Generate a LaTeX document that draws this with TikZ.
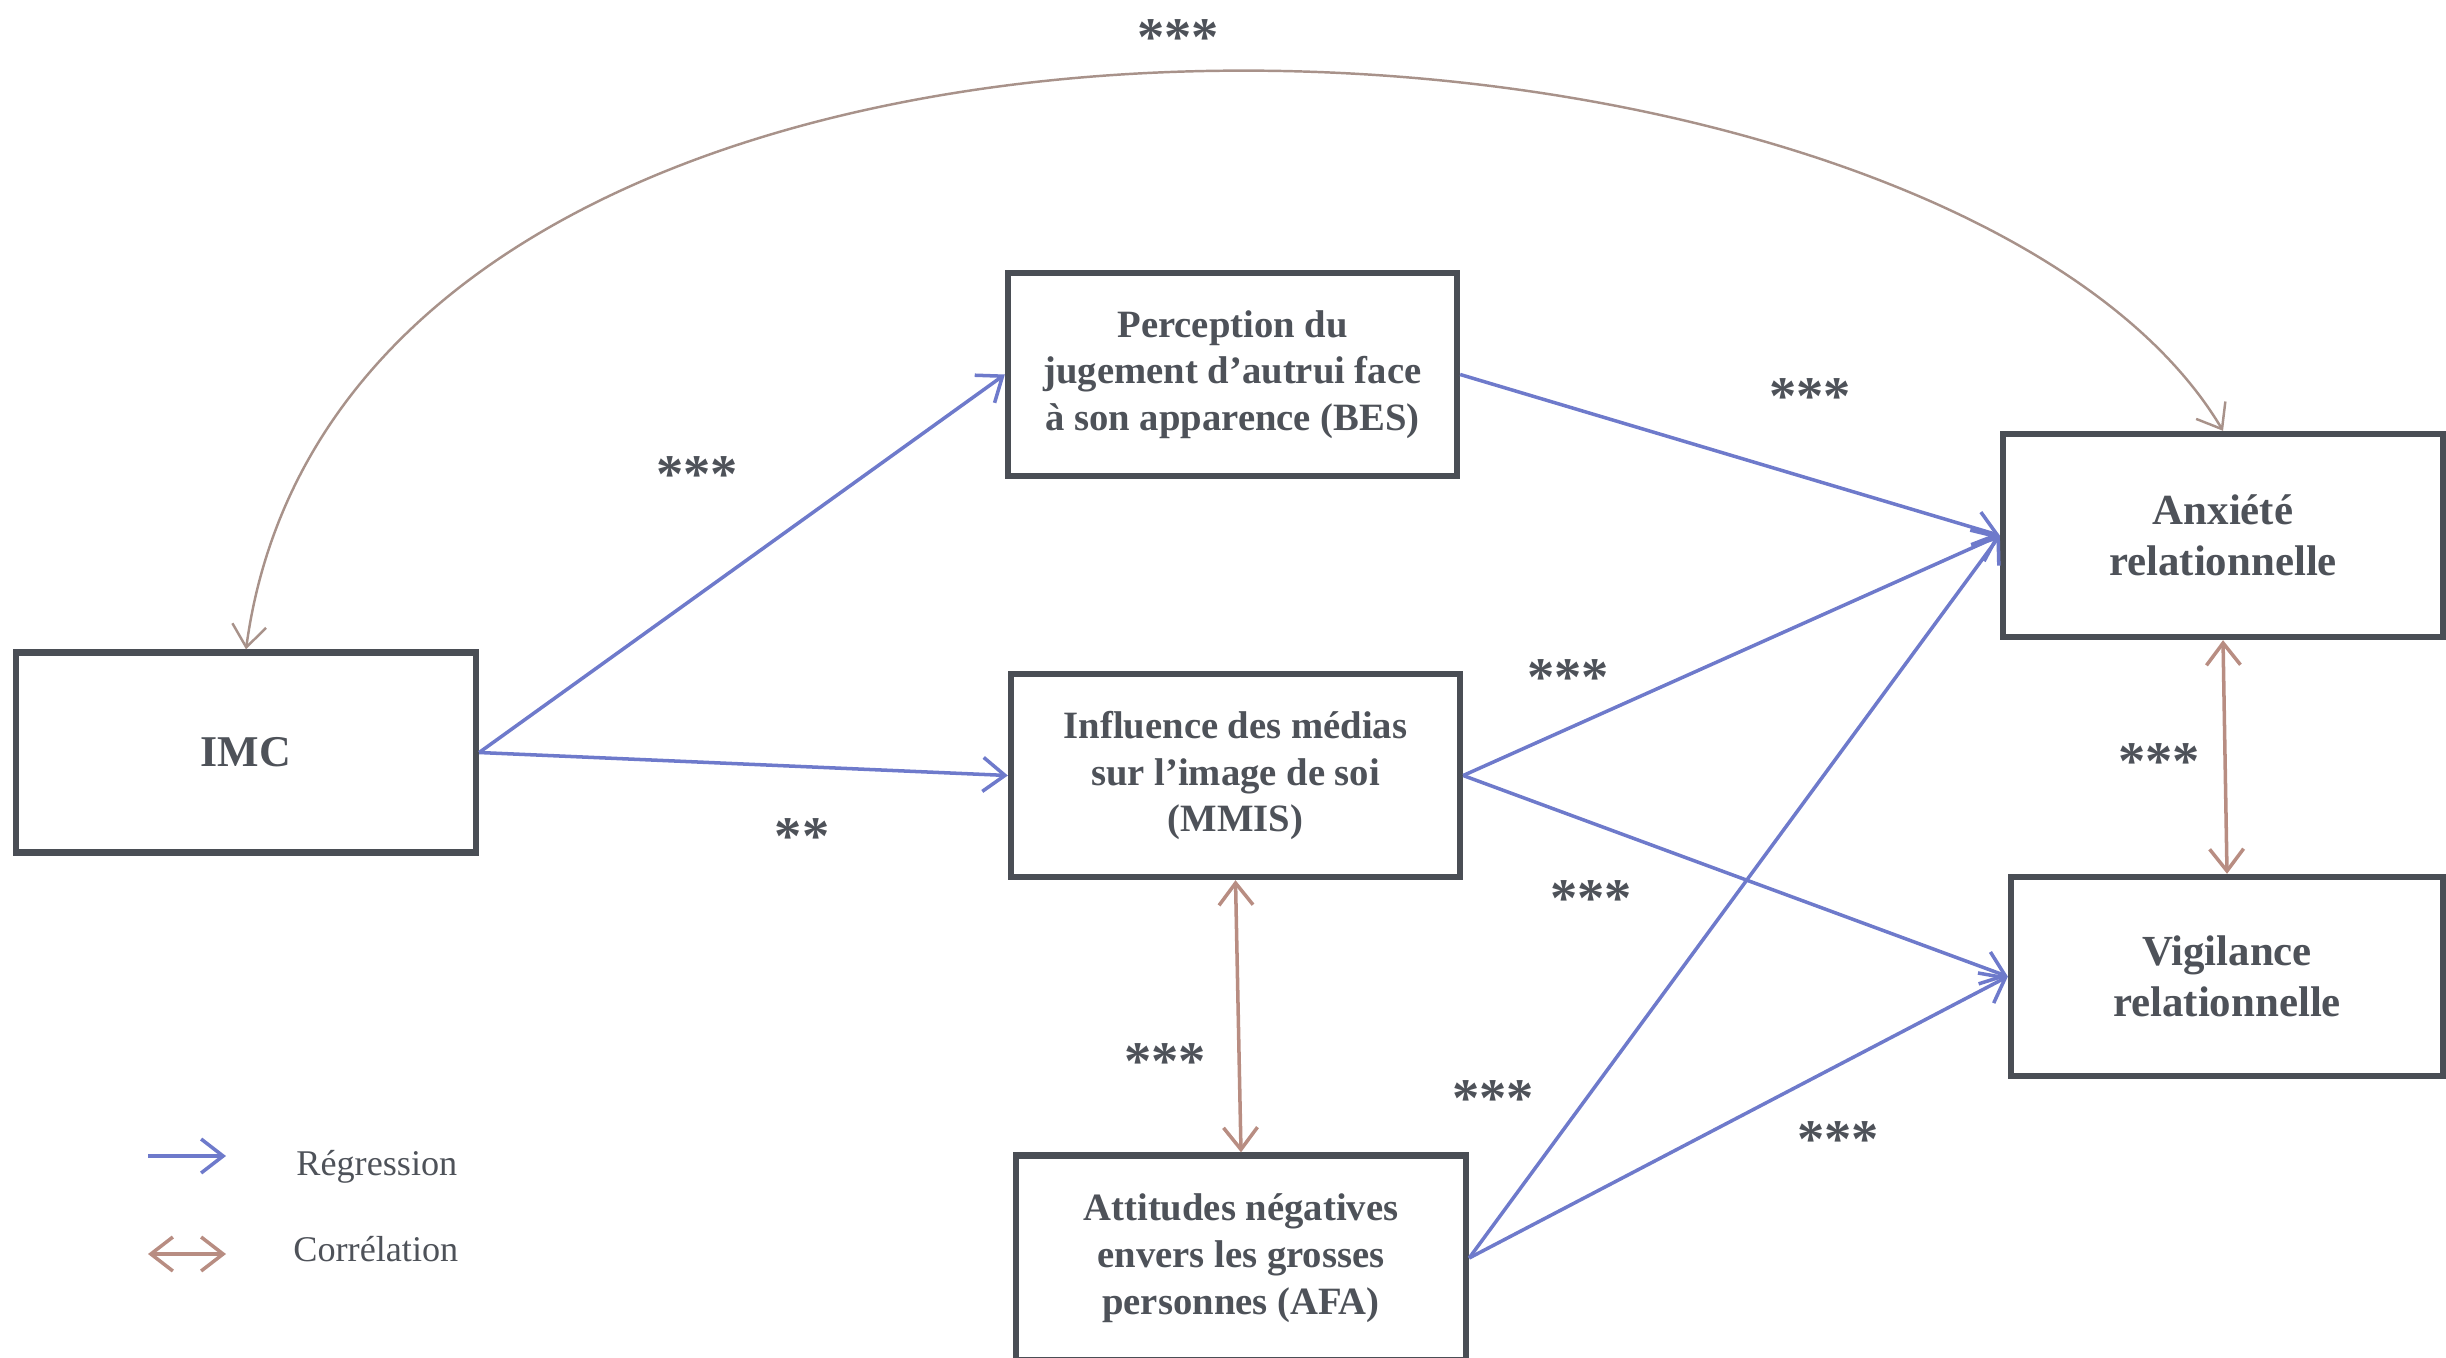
\documentclass[tikz,border=0pt]{standalone}
\usepackage{fontspec}
\setmainfont{Liberation Serif}
\usetikzlibrary{arrows.meta}

\definecolor{boxgray}{HTML}{4A4E55}
\definecolor{txtgray}{HTML}{4E5259}
\definecolor{regblue}{HTML}{6E7ACB}
\definecolor{corbrown}{HTML}{B88D82}
\definecolor{arcbrown}{HTML}{A8928A}

\tikzset{
  var/.style={draw=boxgray, line width=1.8pt, fill=white, text=txtgray,
    font=\fontsize{11}{13.3}\selectfont\bfseries, align=center,
    minimum width=4.49cm, minimum height=2.03cm},
  outcome/.style={var, font=\fontsize{12.2}{14.6}\selectfont\bfseries},
  barb/.tip={Straight Barb[length=2.2mm,width=3.4mm]},
  reg/.style={-barb, regblue, line width=1pt},
  cor/.style={barb-barb, corbrown, line width=1pt},
  sig/.style={text=txtgray, font=\fontsize{15.5}{15.5}\selectfont\bfseries},
  leg/.style={text=txtgray, font=\fontsize{10.3}{12}\selectfont, anchor=west},
}

\begin{document}
\begin{tikzpicture}
    \useasboundingbox (0,0) rectangle (24.46,-13.57);
    % Variables
    \node[var, font=\fontsize{12.5}{15}\selectfont\bfseries, minimum width=4.6cm, minimum height=2.0cm] (imc) at (2.46,-7.525) {IMC};
    \node[var] (bes) at (12.325,-3.745) {Perception du\\jugement d'autrui face\\à son apparence (BES)};
    \node[var] (mmis) at (12.355,-7.755) {Influence des médias\\sur l'image de soi\\(MMIS)};
    \node[var, minimum width=4.5cm, minimum height=2.05cm] (afa) at (12.41,-12.58) {Attitudes négatives\\envers les grosses\\personnes (AFA)};
    \node[outcome, minimum width=4.4cm] (anx) at (22.23,-5.355) {Anxiété\\relationnelle};
    \node[outcome, minimum width=4.32cm, minimum height=1.99cm] (vig) at (22.27,-9.765) {Vigilance\\relationnelle};

    % Regressions
    \draw[reg] (imc.east) -- (bes.west);
    \draw[reg] (imc.east) -- (mmis.west);
    \draw[reg] (bes.east) -- (anx.west);
    \draw[reg] (mmis.east) -- (anx.west);
    \draw[reg] (mmis.east) -- (vig.west);
    \draw[reg] (afa.east) -- (anx.west);
    \draw[reg] (afa.east) -- (vig.west);

    % Correlations
    \draw[cor] (mmis.south) -- (afa.north);
    \draw[cor] (anx.south) -- (vig.north);
    \draw[cor, arcbrown, line width=0.7pt] (imc.north) .. controls +(1.05,7.72) and +(-2.82,4.74) .. (anx.north);

    % Significance
    \node[sig] (s1) at (11.78,-0.38) {***};
    \node[sig] (s2) at (6.97,-4.75) {***};
    \node[sig] (s3) at (8.02,-8.37) {**};
    \node[sig] (s4) at (18.10,-3.97) {***};
    \node[sig] (s5) at (15.68,-6.78) {***};
    \node[sig] (s6) at (15.91,-8.99) {***};
    \node[sig] (s7) at (11.65,-10.62) {***};
    \node[sig] (s8) at (14.93,-10.99) {***};
    \node[sig] (s9) at (18.38,-11.40) {***};
    \node[sig] (s10) at (21.59,-7.62) {***};

    % Legend
    \coordinate (lr1) at (1.48,-11.56);
    \coordinate (lr2) at (2.26,-11.56);
    \coordinate (lc1) at (1.48,-12.54);
    \coordinate (lc2) at (2.26,-12.54);
    \draw[reg] (lr1) -- (lr2);
    \draw[cor] (lc1) -- (lc2);
    \node[leg] (lreg) at (2.84,-11.67) {Régression};
    \node[leg] (lcor) at (2.81,-12.49) {Corrélation};
\end{tikzpicture}
\end{document}
